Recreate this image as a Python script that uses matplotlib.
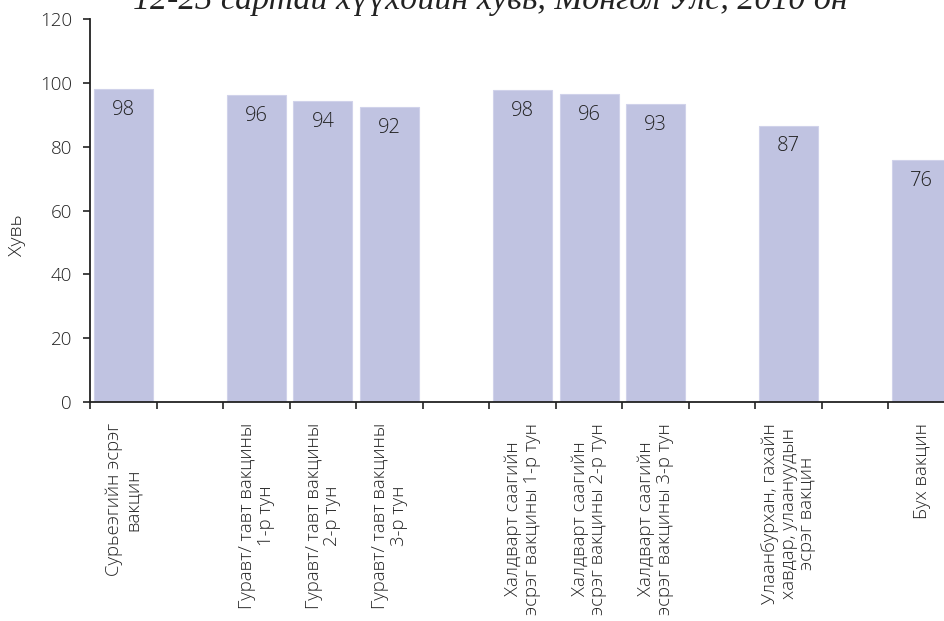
import numpy as np
import matplotlib
matplotlib.use('Agg')
import matplotlib.pyplot as plt

# --- data ------------------------------------------------------------------
categories = [
    'Сурьеэгийн эсрэг\nвакцин',
    '',
    'Гуравт/ тавт вакцины\n1-р тун',
    'Гуравт/ тавт вакцины\n2-р тун',
    'Гуравт/ тавт вакцины\n3-р тун',
    '',
    'Халдварт саагийн\nэсрэг вакцины 1-р тун',
    'Халдварт саагийн\nэсрэг вакцины 2-р тун',
    'Халдварт саагийн\nэсрэг вакцины 3-р тун',
    '',
    'Улаанбурхан, гахайн\nхавдар, улаануудын\nэсрэг вакцин',
    '',
    'Бух вакцин',
]
values = [98.0, np.nan, 96.1, 94.4, 92.3, np.nan, 97.7, 96.4, 93.3,
          np.nan, 86.6, np.nan, 75.9]
yticks = [0, 20, 40, 60, 80, 100, 120]
title = '12-23 сартай хүүхдийн хувь, Монгол Улс, 2010 он'
ylabel = 'Хувь'

plt.rcParams['font.family'] = ['Open Sans', 'DejaVu Sans']
plt.rcParams['font.weight'] = 'light'
TXT = '#222222'

fig = plt.figure(figsize=(9.44, 6.21), dpi=100)
ax = fig.add_axes([90 / 944, 1 - 402 / 621, 865 / 944, 383 / 621])

x = np.arange(len(categories))
ax.bar(x, values, width=0.886, color='#c0c3e1',
       edgecolor='#d0d2ea', linewidth=0.8)

for xi, v in zip(x, values):
    if np.isfinite(v):
        ax.annotate(f'{v:.0f}', (xi, v), xytext=(0, -15),
                    textcoords='offset points', ha='center', va='center',
                    fontsize=14.5, color=TXT)

ax.set_xlim(-0.5, len(categories) - 0.5)
ax.set_ylim(0, 120)
ax.set_yticks(yticks)
ax.tick_params(axis='y', direction='out', length=5, width=1.2,
               labelsize=13.5, colors=TXT, pad=8)

# category boundaries as ticks, labels at centres
ax.set_xticks(np.arange(len(categories) + 1) - 0.5)
ax.set_xticklabels([])
ax.tick_params(axis='x', which='major', direction='out', length=5, width=1.2,
               colors=TXT)
ax.set_xticks(x, minor=True)
ax.set_xticklabels(categories, minor=True, rotation=90, ha='center',
                   va='top', multialignment='center', fontsize=13.3,
                   color=TXT, linespacing=1.05)
ax.tick_params(axis='x', which='minor', length=0, pad=15)

for side in ('top', 'right'):
    ax.spines[side].set_visible(False)
for side in ('left', 'bottom'):
    ax.spines[side].set_linewidth(1.3)
    ax.spines[side].set_color(TXT)

fig.text(17.5 / 944, 1 - 235 / 621, ylabel, rotation=90, ha='center',
         va='center', fontsize=14, color=TXT)

fig.text(490 / 944, 1 - 9 / 621, title, ha='center', va='baseline',
         family='Liberation Serif', style='italic', weight='normal',
         fontsize=24.5, color=TXT)

fig.savefig('out.png', dpi=100)
